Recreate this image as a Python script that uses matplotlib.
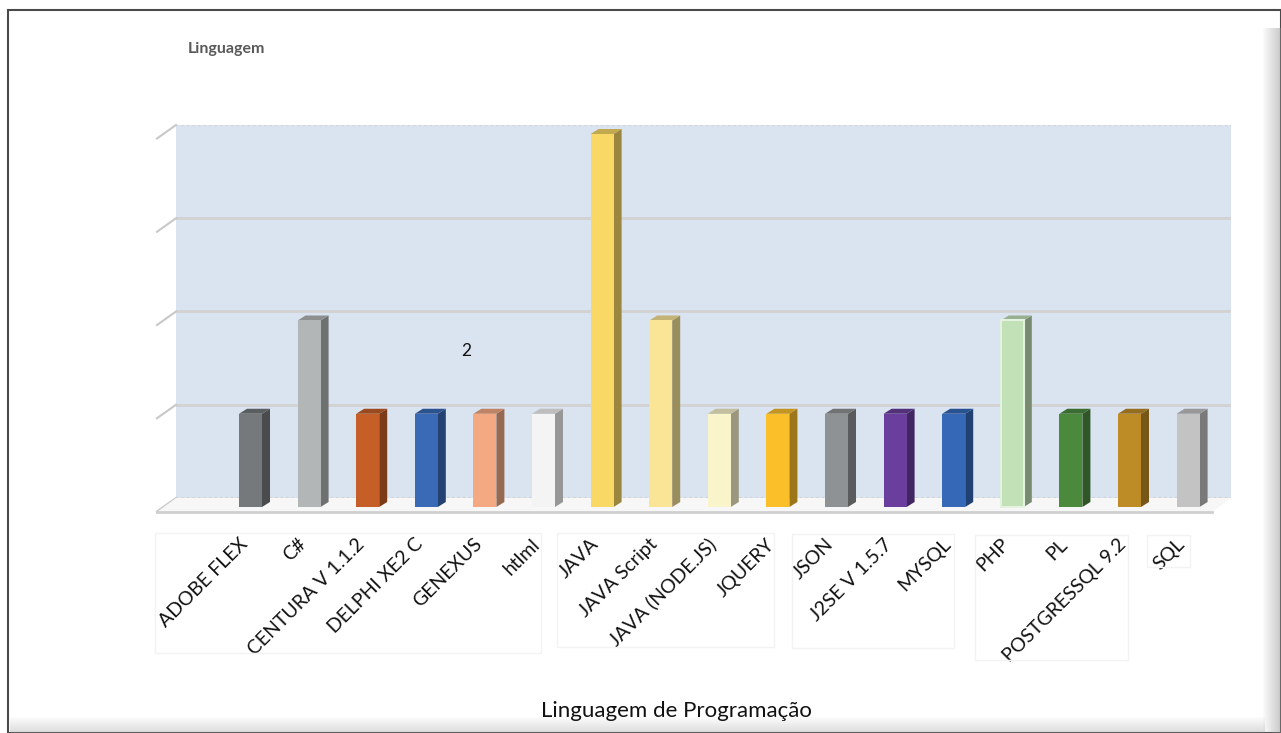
import matplotlib
matplotlib.use("Agg")
import matplotlib.pyplot as plt
import matplotlib.transforms as mtransforms
from matplotlib.patches import Polygon, Rectangle
import numpy as np

# data
linguagens = ["ADOBE FLEX", "C#", "CENTURA V 1.1.2", "DELPHI XE2 C", "GENEXUS", "htlml",
              "JAVA", "JAVA Script", "JAVA (NODE.JS)", "JQUERY", "JSON", "J2SE V 1.5.7",
              "MYSQL", "PHP", "PL", "POSTGRESSQL 9.2", "SQL"]
quantidade = [1, 2, 1, 1, 1, 1, 4, 2, 1, 1, 1, 1, 1, 2, 1, 1, 1]
cores = ["#75797c", "#b3b6b7", "#c65f27", "#3a6ab6", "#f5a982", "#f4f4f4",
         "#f9d865", "#fae596", "#faf4cb", "#fbbf2a", "#8f9294", "#693e9c",
         "#3569b8", "#c2e1b7", "#4b8a3d", "#be8c27", "#c3c3c3"]

W, H = 1281, 733
fig = plt.figure(figsize=(W / 100, H / 100), dpi=100)
fig.patch.set_facecolor("white")
plt.rcParams["font.family"] = ["Lato", "DejaVu Sans"]

# plot area (back wall) in pixels
x_left, x_right = 176, 1231
y_zero, y_four = 498, 125
ax = fig.add_axes([x_left / W, (H - y_zero) / H, (x_right - x_left) / W, (y_zero - y_four) / H])
ax.set_facecolor("#dae3f0")
for s in ax.spines.values():
    s.set_visible(False)

px_per_cat = 58.6
first_c = 250.5
ax.set_xlim((x_left - first_c) / px_per_cat, (x_right - first_c) / px_per_cat)
ax.set_ylim(0, 4)
px_per_unit = (y_zero - y_four) / 4

# grid lines on back wall + slanted stubs on the side wall
for v in range(5):
    ls = "-" if v in (1, 2, 3) else ":"
    ax.axhline(v, color="#d2d2d2", lw=2 if v in (1, 2, 3) else 1.5, ls=ls, zorder=1)
    x0 = (x_left - first_c) / px_per_cat
    x1 = (157 - first_c) / px_per_cat
    ax.plot([x1, x0], [v - 13.5 / px_per_unit, v], color="#c8c8c8", lw=1.5,
            clip_on=False, zorder=1)

# floor
fx0 = (157 - first_c) / px_per_cat
fx1 = (1212 - first_c) / px_per_cat
fdy = 14 / px_per_unit
floor = Polygon([[fx0, -fdy], [ax.get_xlim()[0], 0], [ax.get_xlim()[1], 0], [fx1, -fdy]],
                closed=True, facecolor="#f7f7f7", edgecolor="none", clip_on=False, zorder=1)
ax.add_patch(floor)
ax.plot([fx0, fx1], [-fdy, -fdy], color="#cfcfcf", lw=2, clip_on=False, zorder=1)

# bars with a fake 3d side and top
shift = mtransforms.ScaledTranslation(0, -9 / 100, fig.dpi_scale_trans)
tr = ax.transData + shift
x = np.arange(len(linguagens))
bw = 23 / px_per_cat
ddx = 8 / px_per_cat
ddy = 5 / px_per_unit


def darker(c, f):
    r, g, b = matplotlib.colors.to_rgb(c)
    return (r * f, g * f, b * f)


for xi, v, c in zip(x, quantidade, cores):
    xl, xr = xi - bw / 2, xi + bw / 2
    side = Polygon([[xr, 0], [xr + ddx, ddy], [xr + ddx, v + ddy], [xr, v]], closed=True,
                   facecolor=darker(c, 0.62), edgecolor="none", transform=tr, zorder=3,
                   clip_on=False)
    top = Polygon([[xl, v], [xl + ddx, v + ddy], [xr + ddx, v + ddy], [xr, v]], closed=True,
                  facecolor=darker(c, 0.78), edgecolor="none", transform=tr, zorder=3,
                  clip_on=False)
    ax.add_patch(side)
    ax.add_patch(top)
bars = ax.bar(x, quantidade, width=bw, color=cores, transform=tr, zorder=4, clip_on=False)
bars[13].set_edgecolor("#e4f3df")
bars[13].set_linewidth(1.5)

ax.set_yticks([])
ax.set_xticks(x)
ax.set_xticklabels(linguagens, rotation=45, ha="right", va="top", fontsize=14,
                   color="#111111")
ax.tick_params(axis="x", length=0, pad=27)

# faint boxes behind the category labels
for bx0, by0, bx1, by1 in [(155, 533, 541, 653), (557, 533, 774, 647),
                           (792, 534, 954, 648), (975, 535, 1128, 660),
                           (1147, 535, 1190, 567)]:
    fig.patches.append(Rectangle((bx0 / W, 1 - by1 / H), (bx1 - bx0) / W, (by1 - by0) / H,
                                 transform=fig.transFigure, fill=False,
                                 edgecolor="#f3f3f3", lw=1, zorder=0))

# stray data label
fig.text(466 / W, 1 - 351 / H, "2", fontsize=12.5, ha="center", va="center", color="#111111")

fig.text(188 / W, 1 - 49 / H, "Linguagem", fontsize=11.5, fontweight="bold",
         color="#595959", ha="left", va="center")
fig.text(676 / W, 1 - 711 / H, "Linguagem de Programação", fontsize=16,
         color="#111111", ha="center", va="center")

# frame with shadow
fig.patches.append(Rectangle((8 / W, 0), (W - 8) / W, (H - 10) / H, transform=fig.transFigure,
                             fill=False, edgecolor="#4a4a4a", lw=1.5, zorder=0))
for i in range(18):
    a = 0.04 + 0.025 * i
    fig.patches.append(Rectangle(((1263 + i) / W, 0), 1 / W, (H - 28) / H,
                                 transform=fig.transFigure, facecolor=(0.55, 0.55, 0.55, a),
                                 edgecolor="none", zorder=0))
for i in range(16):
    a = 0.02 + 0.018 * i
    fig.patches.append(Rectangle((10 / W, i / H), (W - 26) / W, 1 / H,
                                 transform=fig.transFigure,
                                 facecolor=(0.55, 0.55, 0.55, 0.32 - a),
                                 edgecolor="none", zorder=0))

fig.savefig("out.png", dpi=100)
